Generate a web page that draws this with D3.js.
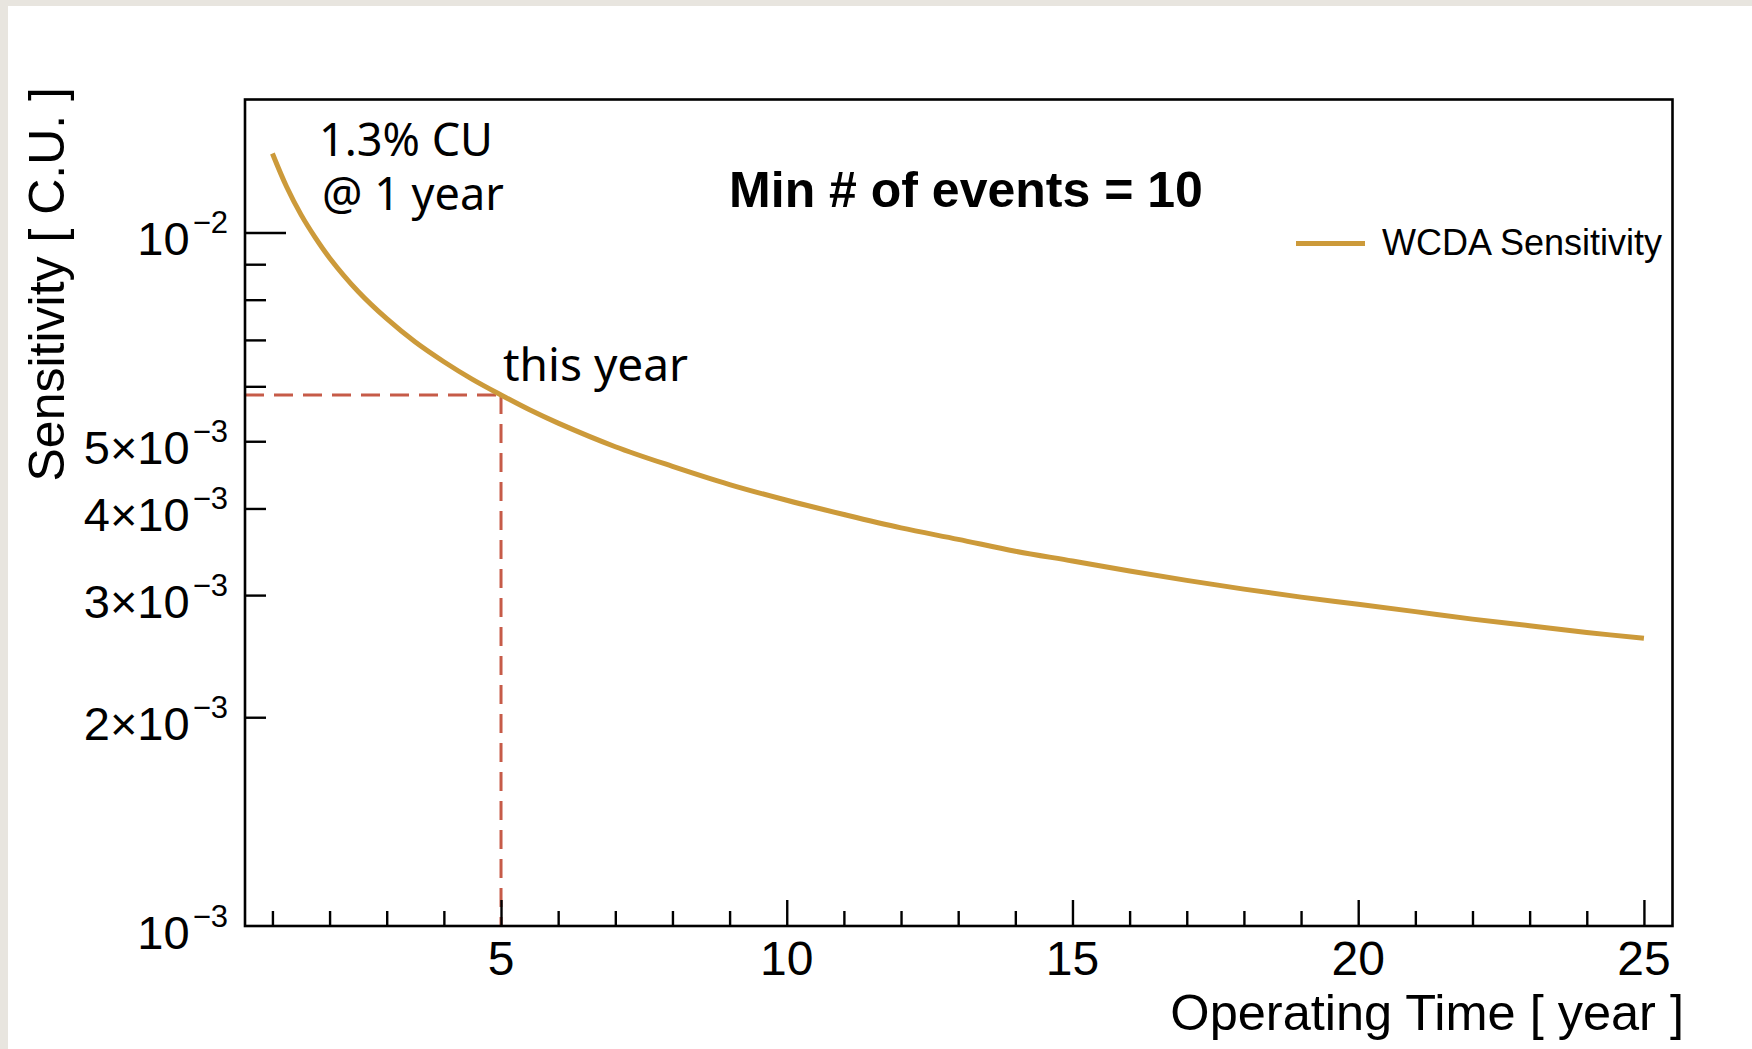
<!DOCTYPE html>
<html>
<head>
<meta charset="utf-8">
<script src="https://cdn.jsdelivr.net/npm/d3@7"></script>
<style>
  html, body { margin: 0; padding: 0; background: #ffffff; }
  svg { display: block; }
</style>
</head>
<body>
<svg id="chart" width="1752" height="1049"></svg>
<script>
// Operating time in years and the WCDA sensitivity (in Crab units) reached after that time
const years = [1, 1.25, 1.5, 1.75, 2, 2.5, 3, 3.5, 4, 4.5, 5, 5.5, 6, 7, 8, 9, 10, 11, 12, 13, 14, 15, 16, 17, 18, 19, 20, 21, 22, 23, 24, 25];
const sensitivity = [
  1.30e-2, 1.163e-2, 1.061e-2, 9.83e-3, 9.19e-3, 8.22e-3, 7.51e-3, 6.95e-3, 6.51e-3,
  6.14e-3, 5.83e-3, 5.55e-3, 5.31e-3, 4.91e-3, 4.60e-3, 4.33e-3, 4.11e-3, 3.92e-3,
  3.75e-3, 3.61e-3, 3.47e-3, 3.36e-3, 3.25e-3, 3.15e-3, 3.06e-3, 2.98e-3, 2.91e-3,
  2.84e-3, 2.77e-3, 2.71e-3, 2.65e-3, 2.60e-3
];

// Marked operating year ("this year")
const markedYear = 5;

// Axis ticks
const xMajorTicks = [5, 10, 15, 20, 25];
const xMinorTicks = d3.range(1, 26);
const yLabelledTicks = [
  { v: 1e-3, mant: "10", exp: "\u22123" },
  { v: 2e-3, mant: "2\u00d710", exp: "\u22123" },
  { v: 3e-3, mant: "3\u00d710", exp: "\u22123" },
  { v: 4e-3, mant: "4\u00d710", exp: "\u22123" },
  { v: 5e-3, mant: "5\u00d710", exp: "\u22123" },
  { v: 1e-2, mant: "10", exp: "\u22122" }
];
const yPlainTicks = [6e-3, 7e-3, 8e-3, 9e-3];

const svg = d3.select("#chart");
const W = 1752, H = 1049;
const frame = { left: 245, right: 1672.5, top: 99.5, bottom: 926 };

const curveColor = "#cc9a3a";
const markColor = "#c65b48";
const axisFont = "'Liberation Sans', Arial, sans-serif";
const noteFont = "'Noto Sans', 'Open Sans', sans-serif";

// page background with the light border strips
svg.append("rect").attr("x", 0).attr("y", 0).attr("width", W).attr("height", H).attr("fill", "#e8e5df");
svg.append("rect").attr("x", 8).attr("y", 6).attr("width", W - 8).attr("height", H - 6).attr("fill", "#ffffff");

const x = d3.scaleLinear().domain([0.52, 25.5]).range([frame.left, frame.right]);
const y = d3.scaleLog().domain([1e-3, 1.555e-2]).range([frame.bottom, frame.top]);

const data = years.map((t, i) => ({ t, s: sensitivity[i] }));

// dashed guide to the marked year
const markIdx = years.indexOf(markedYear);
const markVal = sensitivity[markIdx];
const guide = svg.append("g").attr("stroke", markColor).attr("stroke-width", 3)
  .attr("stroke-dasharray", "19,10").attr("fill", "none");
guide.append("line")
  .attr("x1", x.range()[0]).attr("x2", x(markedYear))
  .attr("y1", y(markVal)).attr("y2", y(markVal));
guide.append("line")
  .attr("x1", x(markedYear)).attr("x2", x(markedYear))
  .attr("y1", y(markVal)).attr("y2", frame.bottom);

// x axis: major and minor ticks drawn inward from the bottom edge
const xAxisMajor = d3.axisTop(x).tickValues(xMajorTicks).tickSize(26).tickFormat("");
const xAxisMinor = d3.axisTop(x).tickValues(xMinorTicks.filter(v => v % 5 !== 0)).tickSize(15).tickFormat("");
[xAxisMajor, xAxisMinor].forEach(ax => {
  const g = svg.append("g").attr("transform", `translate(0,${frame.bottom})`).call(ax);
  g.select(".domain").remove();
  g.selectAll(".tick line").attr("stroke", "#000").attr("stroke-width", 2.4);
});

// x tick labels
svg.append("g").selectAll("text").data(xMajorTicks).join("text")
  .attr("x", d => x(d)).attr("y", 975)
  .attr("text-anchor", "middle")
  .attr("font-family", axisFont).attr("font-size", 48)
  .attr("fill", "#000")
  .text(d => d);

// y axis: ticks drawn inward from the left edge
const yAxisLong = d3.axisRight(y).tickValues([1e-2]).tickSize(41).tickFormat("");
const yAxisShort = d3.axisRight(y).tickValues(yLabelledTicks.map(d => d.v).filter(v => v !== 1e-2 && v !== 1e-3).concat(yPlainTicks)).tickSize(21).tickFormat("");
[yAxisLong, yAxisShort].forEach(ax => {
  const g = svg.append("g").attr("transform", `translate(${frame.left},0)`).call(ax);
  g.select(".domain").remove();
  g.selectAll(".tick line").attr("stroke", "#000").attr("stroke-width", 2.4);
});

// y tick labels with superscript exponents
const yl = svg.append("g").selectAll("text").data(yLabelledTicks).join("text")
  .attr("x", 228).attr("y", d => y(d.v) + 23)
  .attr("text-anchor", "end")
  .attr("font-family", axisFont).attr("font-size", 47)
  .attr("fill", "#000");
yl.append("tspan").text(d => d.mant);
yl.append("tspan").attr("dy", -22).attr("dx", 3).attr("font-size", 31).text(d => d.exp);

// plot frame
svg.append("rect")
  .attr("x", frame.left).attr("y", frame.top)
  .attr("width", frame.right - frame.left).attr("height", frame.bottom - frame.top)
  .attr("fill", "none").attr("stroke", "#000").attr("stroke-width", 2.6);

// sensitivity curve
const line = d3.line().x(d => x(d.t)).y(d => y(d.s)).curve(d3.curveCatmullRom.alpha(0.5));
svg.append("path").datum(data)
  .attr("d", line)
  .attr("fill", "none").attr("stroke", curveColor).attr("stroke-width", 5)
  .attr("stroke-linecap", "butt").attr("stroke-linejoin", "round");

// axis titles
svg.append("text")
  .attr("x", 1684).attr("y", 1030)
  .attr("text-anchor", "end")
  .attr("font-family", axisFont).attr("font-size", 50.5)
  .attr("fill", "#000")
  .text("Operating Time [ year ]");

svg.append("text")
  .attr("transform", `translate(64,87) rotate(-90)`)
  .attr("text-anchor", "end")
  .attr("font-family", axisFont).attr("font-size", 50)
  .attr("fill", "#000")
  .text("Sensitivity [ C.U. ]");

// plot title inside the frame
svg.append("text")
  .attr("x", 966).attr("y", 207)
  .attr("text-anchor", "middle")
  .attr("font-family", axisFont).attr("font-size", 50).attr("font-weight", "bold")
  .attr("fill", "#000")
  .text("Min # of events = 10");

// legend
svg.append("line")
  .attr("x1", 1296).attr("x2", 1365).attr("y1", 243.5).attr("y2", 243.5)
  .attr("stroke", curveColor).attr("stroke-width", 5);
svg.append("text")
  .attr("x", 1382).attr("y", 255)
  .attr("font-family", axisFont).attr("font-size", 36)
  .attr("fill", "#000")
  .text("WCDA Sensitivity");

// annotations
const note = svg.append("g").attr("font-family", noteFont).attr("font-size", 45).attr("fill", "#000");
const firstYear = note.append("text").attr("x", 319).attr("y", 156);
firstYear.append("tspan").attr("x", 319).text("1.3% CU");
firstYear.append("tspan").attr("x", 322).attr("dy", 54).text("@ 1 year");
note.append("text").attr("x", 503).attr("y", 381).attr("font-size", 46).text("this year");
</script>
</body>
</html>
